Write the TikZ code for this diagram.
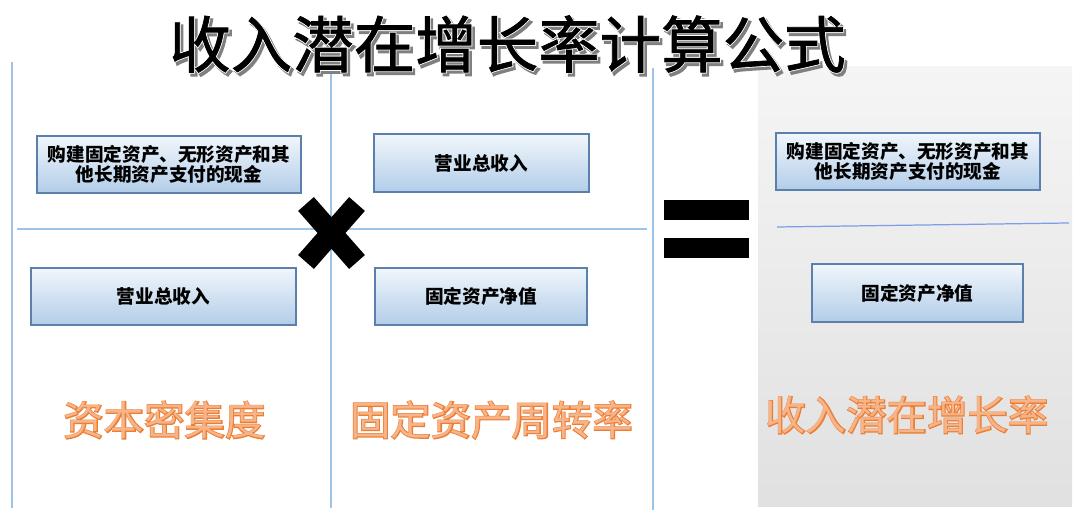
\documentclass[tikz,border=0pt]{standalone}
\usepackage{fontspec}
\newfontfamily\cjk{Noto Sans CJK SC}
\newfontfamily\cjkfat{Noto Sans CJK SC}[FakeBold=4]
\newfontfamily\cjkheavy{Noto Sans CJK SC}[FakeBold=1.2]
\definecolor{lineblue}{HTML}{9DC3E6}
\definecolor{boxtop}{HTML}{F1F6FB}
\definecolor{boxbot}{HTML}{B2CDE9}
\definecolor{boxline}{HTML}{5B80AC}
\definecolor{ratioorange}{HTML}{ED7D31}
\definecolor{ratiopeach}{HTML}{F6B48A}
\begin{document}
\begin{tikzpicture}[x=0.02cm, y=-0.02cm,
    formula/.style={draw=boxline, line width=0.9pt, top color=boxtop, bottom color=boxbot,
        align=center, inner sep=0pt, font=\cjk\bfseries\fontsize{10.6}{11.4}\selectfont},
    divider/.style={draw=lineblue, line width=0.7pt},
    ratio/.style={font=\cjkfat\fontsize{23}{23}\selectfont, text=ratioorange, inner sep=0pt},
    ratiofill/.style={font=\cjk\fontsize{23}{23}\selectfont, text=ratiopeach, inner sep=0pt},
    headline/.style={font=\cjkheavy\fontsize{35}{35}\selectfont, inner sep=0pt}]
    \useasboundingbox (0,0) rectangle (1080,516);
    \fill[white] (0,0) rectangle (1080,516);

    \shade[top color=black!4, middle color=black!15, bottom color=black!12] (758,67) rectangle (1072,507);

    \draw[divider] (12,62) -- (12,508);
    \draw[divider] (331,68) -- (331,508);
    \draw[divider] (653,68) -- (653,510);
    \draw[divider] (17,229) -- (647,229);
    \draw[divider, draw=lineblue!80!blue] (777,227) -- (1069,223);

    \node[headline, text=black!50, font=\cjkfat\fontsize{35}{35}\selectfont] (title shadow) at (510,47) {收入潜在增长率计算公式};
    \node[headline, text=white, font=\cjkfat\fontsize{35}{35}\selectfont] (title halo) at (507.5,44) {收入潜在增长率计算公式};
    \node[headline] (title) at (507.5,44) {收入潜在增长率计算公式};

    \node[formula, minimum width=5.28cm, minimum height=1.14cm] (capex) at (169,164.5) {购建固定资产、无形资产和其\\他长期资产支付的现金};
    \node[formula, minimum width=4.30cm, minimum height=1.16cm] (revenue top) at (481.5,163) {营业总收入};
    \node[formula, minimum width=5.30cm, minimum height=1.14cm] (revenue) at (163.5,296.5) {营业总收入};
    \node[formula, minimum width=4.24cm, minimum height=1.14cm] (assets) at (481,296.5) {固定资产净值};
    \node[formula, minimum width=5.28cm, minimum height=1.14cm] (capex result) at (908,161.5) {购建固定资产、无形资产和其\\他长期资产支付的现金};
    \node[formula, minimum width=4.22cm, minimum height=1.16cm] (assets result) at (917.5,293) {固定资产净值};

    \coordinate (times a) at (306,204);
    \coordinate (times b) at (357,262);
    \coordinate (times c) at (357,204);
    \coordinate (times d) at (306,262);
    \draw[line width=0.42cm] (times a) -- (times b);
    \draw[line width=0.42cm] (times c) -- (times d);

    \fill (664,200) rectangle (749,220);
    \fill (664,238) rectangle (749,258);

    \node[ratio] (intensity) at (164.5,420) {资本密集度};
    \node[ratiofill] (intensity fill) at (164.5,420) {资本密集度};
    \node[ratio] (turnover) at (491.5,420) {固定资产周转率};
    \node[ratiofill] (turnover fill) at (491.5,420) {固定资产周转率};
    \node[ratio] (growth) at (907,415) {收入潜在增长率};
    \node[ratiofill] (growth fill) at (907,415) {收入潜在增长率};
\end{tikzpicture}
\end{document}
